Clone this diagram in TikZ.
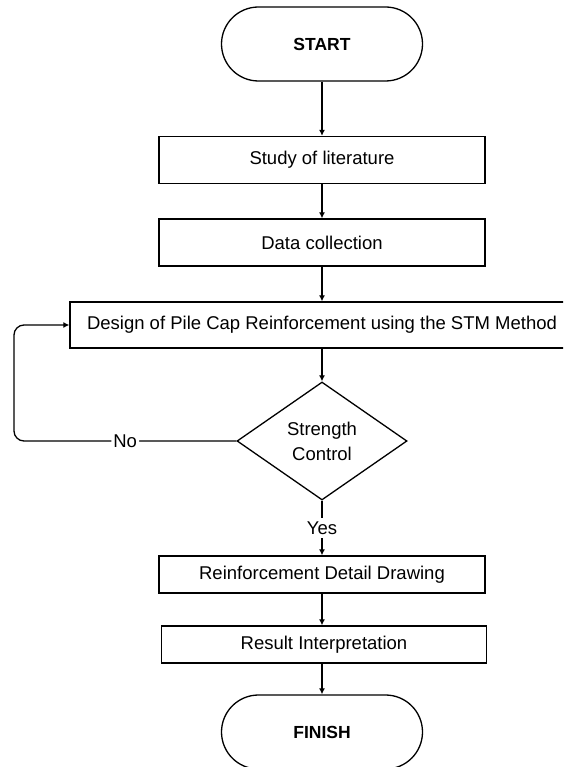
\documentclass[tikz,border=0pt]{standalone}
\usepackage{fontspec}
\setmainfont{Liberation Sans}
\usetikzlibrary{shapes.geometric,shapes.misc,arrows.meta}
\begin{document}
\begin{tikzpicture}[x=1pt,y=-1pt,
  every node/.style={font=\fontsize{18.5}{25}\selectfont},
  proc/.style={draw,line width=1.3pt,rectangle,minimum width=326pt,minimum height=47pt,inner sep=0pt},
  term/.style={draw,line width=1.3pt,rounded rectangle,minimum width=201pt,minimum height=74pt,inner sep=0pt,font=\fontsize{17.5}{20}\selectfont\bfseries},
  decision/.style={draw,diamond,line width=1.3pt,minimum width=170pt,minimum height=118pt,inner sep=0pt,aspect=1.44,align=center},
  arr/.style={-{Latex[length=6pt,width=6pt]},line width=1.3pt},
  lbl/.style={fill=white,inner sep=2pt}
]
\useasboundingbox (0,0) rectangle (563,767);
\clip (0,0) rectangle (563,767);
\node[term] (start) at (322,44) {START};
\node[proc] (study) at (322,160) {Study of literature};
\node[proc] (data) at (322,242.5) {Data collection};
\node[proc,minimum width=504pt,minimum height=46pt] (design) at (322,325) {Design of Pile Cap Reinforcement using the STM Method};
\node[decision] (ctrl) at (322,441) {Strength\\Control};
\node[proc,minimum height=37pt] (detail) at (322,574.5) {Reinforcement Detail Drawing};
\node[proc,minimum width=325pt,minimum height=37pt] (result) at (324,644.5) {Result Interpretation};
\node[term] (finish) at (322,732) {FINISH};
\coordinate (loopx) at (14,441);

\draw[arr] (start.south) -- (study.north);
\draw[arr] (study.south) -- (data.north);
\draw[arr] (data.south) -- (design.north);
\draw[arr] (design.south) -- (ctrl.north);
\draw[arr] (ctrl.south) -- node[lbl,inner sep=4pt] {Yes} (detail.north);
\draw[arr] (detail.south) -- (detail.south |- result.north);
\draw[arr] (result.south -| finish.north) -- (finish.north);
\draw[arr,rounded corners=10pt] (ctrl.west) -- node[lbl] {No} (loopx) |- (design.west);
\end{tikzpicture}
\end{document}
